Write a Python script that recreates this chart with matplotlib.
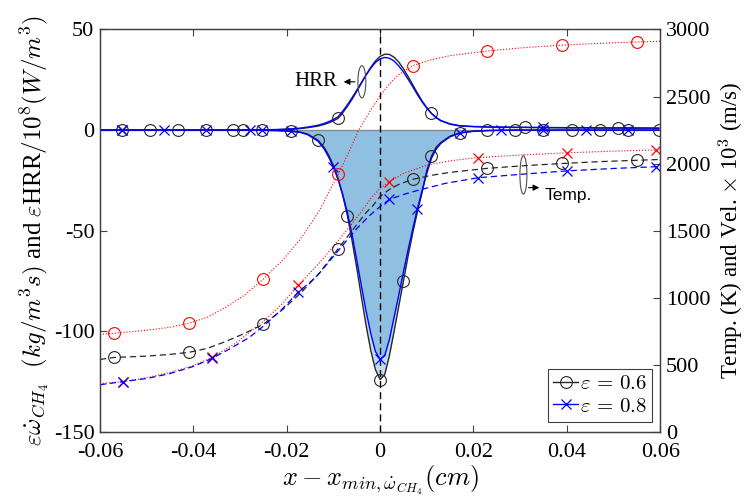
import numpy as np
import matplotlib
matplotlib.use('Agg')
import matplotlib.pyplot as plt
from matplotlib.patches import Ellipse
from matplotlib.lines import Line2D

SERIF = 'Liberation Serif'
plt.rcParams['font.family'] = SERIF
plt.rcParams['mathtext.fontset'] = 'cm'

# flame-zone profiles (left axis): x in cm relative to the CH4 consumption peak
x_flame = [-0.06, -0.0553, -0.0493, -0.0463, -0.0433, -0.0373, -0.0315, -0.0293, -0.0279, -0.0253,
           -0.022, -0.019, -0.017, -0.0155, -0.0133, -0.012, -0.011, -0.01, -0.009, -0.008,
           -0.007, -0.006, -0.005, -0.004, -0.003, -0.002, -0.001, 0.0, 0.001, 0.002,
           0.003, 0.004, 0.005, 0.006, 0.007, 0.008, 0.009, 0.01, 0.011, 0.012,
           0.013, 0.015, 0.0171, 0.02, 0.023, 0.026, 0.029, 0.031, 0.035, 0.041,
           0.044, 0.047, 0.051, 0.053, 0.0597]
hrr_06 = [0, 0, 0, 0, 0, 0, 0, 0, 0.05, 0.1,
          0.2, 0.4, 0.8, 1.2, 2.0, 2.8, 3.6, 4.6, 5.8, 8.6,
          11.8, 15.3, 19.2, 23.3, 27.4, 31.2, 34.4, 36.6, 37.7, 37.6,
          36.2, 33.8, 30.5, 26.6, 22.5, 18.4, 14.5, 11.2, 8.3, 6.2,
          4.6, 2.9, 2.0, 1.7, 1.5, 1.4, 1.3, 1.3, 1.2, 1.1,
          1.1, 1.0, 1.0, 1.0, 0.9]
hrr_08 = [0, 0, 0, 0, 0, 0, 0, 0, 0.07, 0.15,
          0.3, 0.6, 1.0, 1.5, 2.4, 3.3, 4.2, 5.3, 6.6, 9.4,
          12.6, 16.1, 19.8, 23.6, 27.4, 30.8, 33.6, 35.4, 36.1, 35.7,
          34.3, 31.9, 28.9, 25.3, 21.5, 17.6, 14.0, 10.9, 8.3, 6.3,
          4.8, 3.1, 2.2, 1.8, 1.6, 1.5, 1.4, 1.4, 1.3, 1.2,
          1.2, 1.1, 1.1, 1.1, 1.0]
wch4_06 = [0, 0, 0, 0, 0, 0, 0, 0, -0.05, -0.1,
           -0.2, -0.5, -1.0, -2.0, -5.0, -8.5, -12.5, -17.5, -24, -32.5,
           -42.5, -55, -68.5, -83, -97, -109.5, -119, -124, -121.5, -112,
           -100, -87.5, -75, -62.5, -51, -40.5, -31, -20, -13, -8.5,
           -6.2, -3.0, -1.3, -0.5, -0.2, -0.1, 0, 0, 0, 0,
           0, 0, 0, 0, 0]
wch4_08 = [0, 0, 0, 0, 0, 0, 0, 0, -0.06, -0.12,
           -0.25, -0.6, -1.2, -2.3, -5.5, -9.3, -13.5, -18.5, -24.5, -32,
           -41, -52, -64.5, -77.5, -90, -101, -110, -114, -112, -104,
           -93, -82, -70.5, -59.5, -49, -39, -30, -21.5, -14, -9.5,
           -6.6, -3.3, -1.5, -0.6, -0.25, -0.1, 0, 0, 0, 0,
           0, 0, 0, 0, 0]

hrr_06_marks = [-0.009, 0.011, 0.031, 0.051]
hrr_08_marks = [-0.0553, 0.035]
wch4_06_marks = [-0.0553, -0.0493, -0.0433, -0.0373, -0.0315, -0.0293, -0.0253, -0.019, -0.0133,
                 -0.007, 0.0, 0.005, 0.011, 0.0171, 0.023, 0.029, 0.035, 0.041, 0.047, 0.053, 0.0597]
wch4_08_marks = [-0.0553, -0.0463, -0.0373, -0.0279, -0.0253, -0.019, -0.01, 0.0, 0.008, 0.0171,
                 0.026, 0.035, 0.044, 0.053]

# temperature (K) and velocity x 1e3 (m/s), right axis
x_t06 = [-0.06, -0.057, -0.05, -0.045, -0.041, -0.037, -0.033, -0.029, -0.025, -0.021,
         -0.017, -0.013, -0.009, -0.007, -0.005, -0.003, -0.0015, 0.0, 0.002, 0.004,
         0.007, 0.011, 0.015, 0.023, 0.031, 0.039, 0.047, 0.055, 0.06]
temp_06 = [540, 555, 565, 578, 593, 623, 675, 735, 803, 908,
           1035, 1185, 1365, 1455, 1545, 1635, 1688, 1755, 1808, 1845,
           1883, 1913, 1935, 1965, 1985, 2001, 2015, 2025, 2031]
x_v06 = [-0.06, -0.057, -0.05, -0.045, -0.041, -0.037, -0.033, -0.029, -0.025, -0.021,
         -0.017, -0.013, -0.009, -0.0065, -0.0046, -0.002, 0.0, 0.002, 0.004, 0.007,
         0.011, 0.015, 0.023, 0.031, 0.039, 0.047, 0.055, 0.06]
vel_06 = [728, 735, 758, 780, 810, 855, 930, 1020, 1140, 1275,
          1440, 1650, 1920, 2100, 2250, 2400, 2505, 2595, 2663, 2730,
          2775, 2805, 2840, 2865, 2883, 2897, 2907, 2912]
x_t08 = [-0.06, -0.055, -0.05, -0.045, -0.04, -0.036, -0.032, -0.028, -0.025, -0.021,
         -0.0175, -0.0136, -0.009, -0.005, -0.0025, 0.0, 0.002, 0.005, 0.008, 0.014,
         0.021, 0.03, 0.04, 0.05, 0.059, 0.06]
temp_08 = [352, 375, 398, 435, 488, 548, 623, 705, 788, 915,
           1043, 1158, 1350, 1515, 1605, 1680, 1733, 1770, 1800, 1853,
           1895, 1920, 1946, 1964, 1977, 1979]
x_v08 = [-0.06, -0.055, -0.05, -0.045, -0.04, -0.036, -0.031, -0.025, -0.021, -0.0175,
         -0.013, -0.009, -0.006, -0.004, -0.002, 0.0, 0.002, 0.005, 0.01, 0.015,
         0.021, 0.03, 0.04, 0.05, 0.059, 0.06]
vel_08 = [360, 375, 405, 443, 495, 555, 660, 825, 953, 1095,
          1260, 1425, 1553, 1643, 1740, 1815, 1866, 1928, 1988, 2021,
          2045, 2064, 2081, 2093, 2102, 2103]

marks_06 = [-0.057, -0.041, -0.025, -0.009, 0.007, 0.023, 0.039, 0.055]
marks_08 = [-0.055, -0.036, -0.0175, 0.002, 0.021, 0.040, 0.059]

x_ticks = [-0.06, -0.04, -0.02, 0.0, 0.02, 0.04, 0.06]
x_ticklabels = ['-0.06', '-0.04', '-0.02', '0', '0.02', '0.04', '0.06']
left_ticks = [-150, -100, -50, 0, 50]
right_ticks = [0, 500, 1000, 1500, 2000, 2500, 3000]


def picks(xs, where):
    xs = np.asarray(xs)[:, None]
    return list(np.isclose(xs, np.asarray(where)[None, :], atol=1e-6).any(axis=1))


fig = plt.figure(figsize=(7.46, 5.04), dpi=100)
ax1 = fig.add_axes([0.134, 0.143, 0.751, 0.7985])
ax2 = ax1.twinx()

fill_c = (0.0, 0.447, 0.741)
ax1.fill_between(x_flame, wch4_06, 0, color=fill_c, alpha=0.25, lw=0, zorder=1)
ax1.fill_between(x_flame, wch4_08, 0, color=fill_c, alpha=0.25, lw=0, zorder=1)
ax1.axhline(0, color='0.55', lw=1.0, zorder=1.5)
ax1.axvline(0, color='k', ls='--', lw=1.0, dashes=(5, 3), zorder=2)

circ = dict(marker='o', ms=8.5, mfc='none', mew=0.8)
cross = dict(marker='x', ms=7, mew=0.9)
ax1.plot(x_flame, hrr_06, color='0.15', lw=1.0, markevery=picks(x_flame, hrr_06_marks), zorder=3, **circ)
ax1.plot(x_flame, hrr_08, color='b', lw=1.0, markevery=picks(x_flame, hrr_08_marks), zorder=3, **cross)
ax1.plot(x_flame, wch4_06, color='0.15', lw=1.0, markevery=picks(x_flame, wch4_06_marks), zorder=3, **circ)
ax1.plot(x_flame, wch4_08, color='b', lw=1.0, markevery=picks(x_flame, wch4_08_marks), zorder=3, **cross)

ax2.plot(x_v06, vel_06, color='r', ls=':', lw=0.8, markevery=picks(x_v06, marks_06),
         marker='o', ms=8.5, mfc='none', mew=0.8)
ax2.plot(x_v08, vel_08, color='r', ls=':', lw=0.8, markevery=picks(x_v08, marks_08), **cross)
ax2.plot(x_t06, temp_06, color='0.15', ls='--', lw=0.9, dashes=(5, 3),
         markevery=picks(x_t06, marks_06), **circ)
ax2.plot(x_t08, temp_08, color='b', ls='--', lw=0.9, dashes=(5, 3),
         markevery=picks(x_t08, marks_08), **cross)

# callouts
ax1.add_patch(Ellipse((-0.0039, 24), 0.0017, 16, fill=False, ec='0.3', lw=0.8, zorder=4))
ax1.annotate('', xy=(-0.0084, 24), xytext=(-0.0048, 24),
             arrowprops=dict(arrowstyle='-|>', color='k', lw=0.8, mutation_scale=9))
ax1.text(-0.0091, 24, 'HRR', ha='right', va='center', fontsize=15, family=SERIF)
ax1.add_patch(Ellipse((0.0307, -22.3), 0.0015, 19, fill=False, ec='0.3', lw=0.8, zorder=4))
ax1.annotate('', xy=(0.0347, -28.6), xytext=(0.0312, -28.6),
             arrowprops=dict(arrowstyle='-|>', color='k', lw=0.8, mutation_scale=9))
ax1.text(0.0352, -32.5, 'Temp.', ha='left', va='center', fontsize=12.5, family='Liberation Sans')

ax1.set_xlim(-0.06, 0.06)
ax1.set_ylim(-150, 50)
ax2.set_ylim(0, 3000)
ax1.set_xticks(x_ticks)
ax1.set_xticklabels(x_ticklabels, family=SERIF, fontsize=16)
ax1.set_yticks(left_ticks)
ax1.set_yticklabels([str(t) for t in left_ticks], family=SERIF, fontsize=16)
ax2.set_yticks(right_ticks)
ax2.set_yticklabels([str(t) for t in right_ticks], family=SERIF, fontsize=16)

for ax in (ax1, ax2):
    for sp in ax.spines.values():
        sp.set_color('0.25')
        sp.set_linewidth(0.9)
ax1.tick_params(direction='in', length=5, width=0.8, color='0.25', top=True, right=False, pad=4)
ax1.tick_params(axis='x', pad=8)
ax2.tick_params(direction='in', length=5, width=0.8, color='0.25', pad=4)

ax1.set_xlabel(r'$x - x_{min,\dot{\omega}_{CH_4}}(cm)$', fontsize=19, labelpad=1)
ax1.set_ylabel(r'$\varepsilon\dot{\omega}_{CH_4}\ \ (kg/m^3s)$ and $\varepsilon$HRR$/10^8(W/m^3)$',
               fontsize=18, labelpad=2, family=SERIF)
ax2.set_ylabel(r'Temp. (K) and Vel. $\times$ 10$^3$ (m/s)', fontsize=16.5, labelpad=5, family=SERIF)

handles = [Line2D([], [], color='0.15', lw=1.0, **circ),
           Line2D([], [], color='b', lw=1.0, **cross)]
leg = ax2.legend(handles, [r'$\varepsilon\,=\,0.6$', r'$\varepsilon\,=\,0.8$'], loc='lower right',
                 bbox_to_anchor=(0.986, 0.025), borderaxespad=0, fontsize=15, fancybox=False,
                 framealpha=1, edgecolor='0.25', handlelength=1.2, handletextpad=0.1,
                 borderpad=0.25, labelspacing=0.15)
leg.get_frame().set_linewidth(0.8)

fig.savefig('out.png', dpi=100)
